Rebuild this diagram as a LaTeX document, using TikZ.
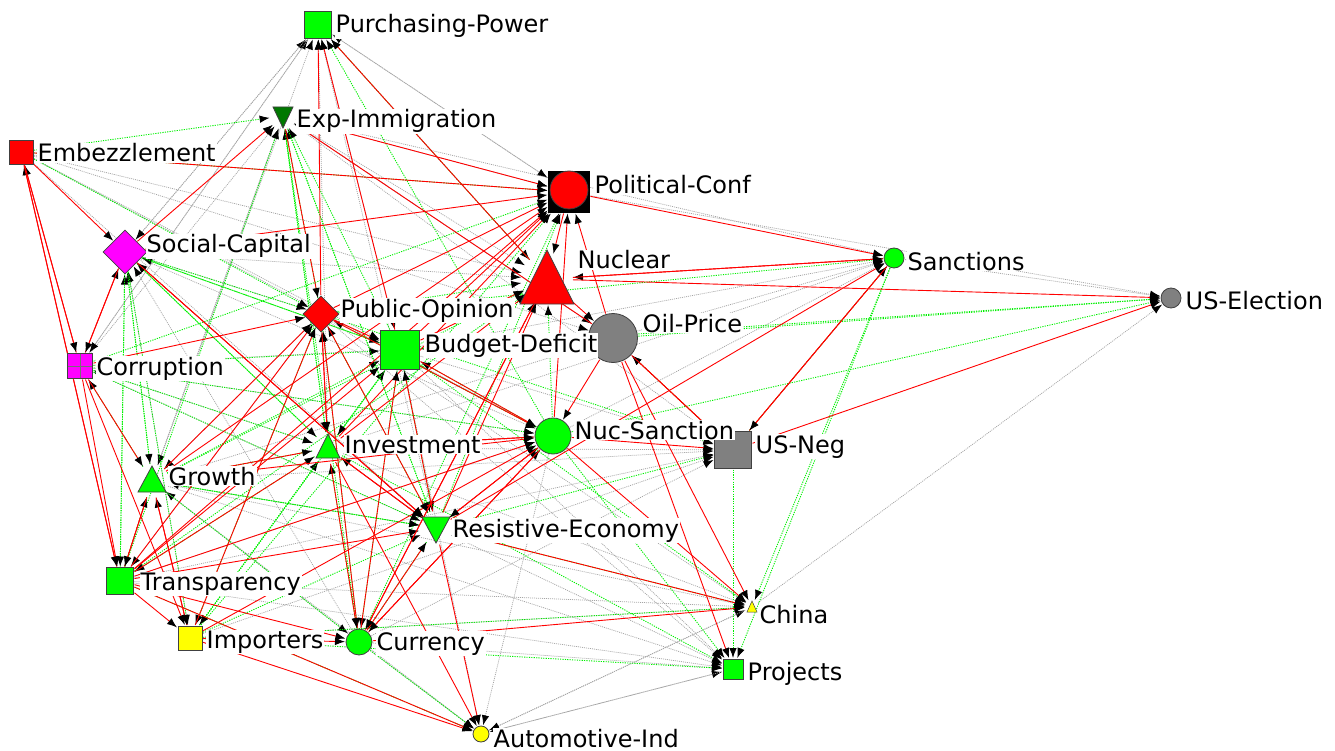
\documentclass[tikz,border=0pt]{standalone}
\usepackage{fontspec}
\setmainfont{DejaVu Sans}
\usetikzlibrary{arrows.meta,shapes.geometric}
\definecolor{cgreen}{RGB}{0,255,0}
\definecolor{cred}{RGB}{255,0,0}
\definecolor{cmag}{RGB}{255,0,255}
\definecolor{cgray}{RGB}{128,128,128}
\definecolor{cyel}{RGB}{255,255,0}
\definecolor{cdkgreen}{RGB}{0,120,0}
\definecolor{colneg}{RGB}{255,0,0}
\definecolor{colpos}{RGB}{0,240,0}
\definecolor{colneu}{RGB}{165,165,165}
\begin{document}
\begin{tikzpicture}[x=1pt,y=-1pt,
  ancs/.style={rectangle,inner sep=0pt,outer sep=0pt,minimum size=#1},
  ancc/.style={circle,inner sep=0pt,outer sep=0pt,minimum size=#1},
  ancd/.style={diamond,aspect=1,inner sep=0pt,outer sep=0pt,minimum size=#1},
  arrline/.style={-{Latex[length=10pt,width=7.5pt,color=black]}},
  rneg/.style={arrline,draw=colneg,line width=0.9pt},
  gpos/.style={arrline,draw=colpos,line width=0.9pt,dash pattern=on 1.2pt off 1.2pt},
  yneu/.style={arrline,draw=colneu,line width=0.75pt,dash pattern=on 1pt off 1pt},
  shp/.style={draw=black!75,line width=0.8pt},
  sqr/.style={shp,rectangle,inner sep=0pt,minimum size=#1},
  crc/.style={shp,circle,inner sep=0pt,minimum size=#1},
  dmd/.style={shp,diamond,aspect=1,inner sep=0pt,minimum size=#1},
  lbl/.style={anchor=base west,fill=white,inner xsep=1pt,inner ysep=1pt,font=\fontsize{24}{28}\selectfont}
]
\useasboundingbox (0,0) rectangle (1335,751);
% ---------- anchor nodes ----------
\node[ancs=29] (PP) at (318,25) {};
\node[ancc=27] (EI) at (283,116) {};
\node[ancs=26] (EM) at (21,152) {};
\node[ancs=43] (PC) at (569,192) {};
\node[ancd=46] (SC) at (125,252) {};
\node[ancc=52] (NU) at (547,279) {};
\node[ancc=22] (SA) at (894,258) {};
\node[ancc=22] (UE) at (1171,298) {};
\node[ancd=38] (PO) at (321,314) {};
\node[ancs=41] (BD) at (400,350) {};
\node[ancc=51] (OP) at (613,338) {};
\node[ancs=27] (CO) at (80,366) {};
\node[ancc=32] (IN) at (328,448) {};
\node[ancc=38] (NS) at (553,436) {};
\node[ancs=39] (UN) at (733,450) {};
\node[ancc=34] (GR) at (152,481) {};
\node[ancc=34] (RE) at (436,528) {};
\node[ancs=29] (TR) at (120,581) {};
\node[ancs=26] (IM) at (190,638) {};
\node[ancc=28] (CU) at (359,642) {};
\node[ancc=15] (CH) at (752,607) {};
\node[ancs=22] (PR) at (733,669) {};
\node[ancc=18] (AI) at (481,734) {};
% ---------- edges ----------
\foreach \s/\t in {SC/PP,GR/PP,CO/PP,RE/PP,PC/PP,IN/PP,GR/EI,CO/EI,OP/EI,EM/BD,EM/NU,EM/OP,PP/SC,PO/SC,CU/SC,IM/SC,PP/PC,
  OP/SA,BD/SA,IN/SA,EI/SA,NS/SA,CH/UE,PC/UE,SA/UE,PP/CO,IN/CO,RE/CO,IN/UN,BD/UN,CU/UN,TR/UN,PO/GR,EI/GR,CU/GR,PO/TR,
  PO/CH,IN/CH,AI/CH,CU/PR,RE/PR,TR/PR,GR/PR,BD/PR,AI/PR,NS/AI,GR/AI,BD/AI,CH/AI,PR/AI,OP/BD,EI/PC,EI/NU,SC/NU,CO/OP,GR/OP,
  CO/NS,SC/NS,EM/NS,GR/UN,IM/UN,TR/CH,GR/CH,EI/OP,EI/UN,PP/NU,EM/RE,SC/RE,TR/NS,IM/CH,CU/AI,PO/PR,GR/RE,IN/RE,PP/BD}
  \draw[yneu] (\s) -- (\t);
\foreach \s/\t in {NU/PP,NS/PP,EM/EI,BD/EI,PO/EI,IN/EI,RE/EI,CU/EI,TR/EI,EM/PO,EM/PC,GR/SC,TR/SC,IN/SC,BD/SC,CO/PC,RE/PC,
  CU/PC,IM/PC,PO/NU,GR/NU,TR/NU,NS/NU,PO/SA,UN/SA,OP/UE,BD/UE,NS/UE,SC/PO,RE/PO,NS/PO,SC/BD,CO/BD,IN/BD,GR/BD,NS/BD,IM/BD,
  UN/OP,GR/CO,BD/IN,SC/IN,CO/IN,CU/IN,EI/IN,IM/IN,CO/NS,RE/UN,PO/UN,SC/GR,IN/GR,RE/GR,CO/RE,GR/RE,IM/RE,BD/RE,EI/RE,SC/TR,
  GR/TR,IN/TR,IN/IM,PO/IM,SC/IM,GR/CU,RE/CU,BD/CU,PO/CU,RE/CH,IM/CH,BD/CH,SA/CH,IM/PR,NS/PR,IN/PR,SA/PR,UN/PR,TR/AI,CU/AI}
  \draw[gpos] (\s) -- (\t);
\foreach \s/\t in {PO/PP,BD/PP,NU/PP,SC/EI,OP/EI,TR/EM,CO/EM,EM/SC,CO/SC,RE/SC,EM/PC,SC/PC,PO/PC,BD/PC,GR/PC,IN/PC,TR/PC,
  NS/PC,OP/PC,EI/PC,BD/NU,IN/NU,SA/NU,PC/NU,RE/NU,CU/NU,NU/OP,PC/SA,NU/SA,UN/SA,RE/SA,NU/UE,UN/UE,CO/PO,GR/PO,IN/PO,TR/PO,
  IM/PO,CU/PO,EI/PO,PO/BD,TR/BD,RE/BD,CU/BD,UN/OP,EM/CO,SC/CO,PO/IN,GR/IN,TR/IN,RE/IN,NS/IN,PO/NS,BD/NS,IN/NS,GR/NS,TR/NS,
  RE/NS,CU/NS,OP/NS,IM/NS,NS/UN,OP/UN,SA/UN,CO/GR,TR/GR,IM/GR,PO/RE,SC/RE,IN/RE,TR/RE,CU/RE,NS/RE,CO/TR,EM/TR,GR/TR,TR/IM,
  GR/IM,CO/IM,TR/CU,IM/CU,IN/CU,NS/CU,NU/CU,RE/CH,CU/CH,NS/CH,OP/CH,OP/PR,IM/AI,TR/AI,RE/AI,IN/AI}
  \draw[rneg] (\s) -- (\t);
% ---------- shapes ----------
\node[sqr=27,fill=cgreen] at (PP) {};
\draw[shp,fill=cdkgreen,shift={(EI.center)}] (-10,-9) -- (10,-9) -- (0,12) -- cycle;
\node[sqr=24,fill=cred] at (EM) {};
\node[sqr=41,fill=black,draw=black] at (PC) {};
\node[crc=38,fill=cred] at (569,190) {};
\node[dmd=44,fill=cmag] at (SC) {};
\draw[shp,fill=cred,shift={(NU.center)}] (0,-29) -- (27,25) -- (-27,25) -- cycle;
\node[crc=20,fill=cgreen] at (SA) {};
\node[crc=20,fill=cgray] at (UE) {};
\node[dmd=36,fill=cred] at (PO) {};
\node[sqr=39,fill=cgreen] at (BD) {};
\node[crc=49,fill=cgray] at (OP) {};
\node[sqr=25,fill=cmag,path picture={\draw[black!55,line width=0.7pt]
  (path picture bounding box.north) -- (path picture bounding box.south)
  (path picture bounding box.west) -- (path picture bounding box.east);}] at (CO) {};
\draw[shp,fill=cgreen,shift={(IN.center)}] (0,-14) -- (12,10) -- (-12,10) -- cycle;
\node[crc=36,fill=cgreen] at (NS) {};
\node[sqr=37,fill=cgray] at (UN) {};
\draw[shp,fill=cgreen,shift={(GR.center)}] (0,-15) -- (14,11) -- (-14,11) -- cycle;
\draw[shp,fill=cgreen,shift={(RE.center)}] (-14,-11) -- (14,-11) -- (0,15) -- cycle;
\node[sqr=27,fill=cgreen] at (TR) {};
\node[sqr=24,fill=cyel] at (IM) {};
\node[crc=26,fill=cgreen] at (CU) {};
\draw[shp,fill=cyel,line width=0.5pt,shift={(CH.center)}] (0,-6) -- (5,5) -- (-5,5) -- cycle;
\node[sqr=20,fill=cgreen] at (PR) {};
\node[crc=16,fill=cyel] at (AI) {};
% ---------- labels ----------
\node[lbl] (lPP) at (334.5,33) {Purchasing-Power};
\node[lbl] (lEI) at (295.5,128) {Exp-Immigration};
\node[lbl] (lEM) at (36.5,162) {Embezzlement};
\node[lbl] (lPC) at (593.5,194) {Political-Conf};
\node[lbl] (lSC) at (145.5,253) {Social-Capital};
\node[lbl] (lSA) at (906.5,270) {Sanctions};
\node[lbl] (lNU) at (576.5,269) {Nuclear};
\node[lbl] (lUE) at (1184.5,309) {US-Election};
\node[lbl] (lPO) at (339.5,317) {Public-Opinion};
\node[lbl] (lOP) at (641.5,332) {Oil-Price};
\node[lbl] (lBD) at (423.5,352) {Budget-Deficit};
\node[lbl] (lCO) at (95.5,375) {Corruption};
\node[lbl] (lUN) at (754.5,453) {US-Neg};
\node[lbl] (lNS) at (573.5,439) {Nuc-Sanction};
\node[lbl] (lIN) at (343.5,453) {Investment};
\node[lbl] (lGR) at (167.5,485) {Growth};
\node[lbl] (lRE) at (451.5,537) {Resistive-Economy};
\node[lbl] (lTR) at (139.5,590) {Transparency};
\node[lbl] (lIM) at (205.5,648) {Importers};
\node[lbl] (lCU) at (375.5,650) {Currency};
\node[lbl] (lCH) at (758.5,623) {China};
\node[lbl] (lPR) at (746.5,680) {Projects};
\node[lbl] (lAI) at (492.5,747) {Automotive-Ind};
\end{tikzpicture}
\end{document}
